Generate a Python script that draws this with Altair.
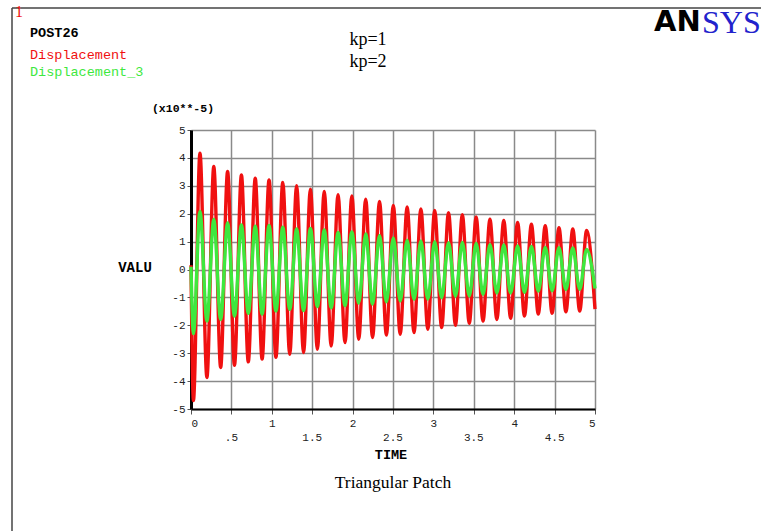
import altair as alt
import pandas as pd

# POST26 time history: nodal displacement (units of 1e-5) at kp=1 and kp=2
PEAK_T = [0.111, 0.282, 0.453, 0.624, 0.795, 0.966, 1.136, 1.307, 1.478, 1.649,
          1.820, 1.991, 2.162, 2.333, 2.504, 2.675, 2.845, 3.016, 3.187, 3.358,
          3.529, 3.700, 3.871, 4.042, 4.213, 4.384, 4.554, 4.725, 4.896]
TROUGH_T = [0.030, 0.197, 0.367, 0.538, 0.709, 0.880, 1.051, 1.222, 1.393, 1.564,
            1.735, 1.906, 2.076, 2.247, 2.418, 2.589, 2.760, 2.931, 3.102, 3.273,
            3.444, 3.614, 3.785, 3.956, 4.127, 4.298, 4.469, 4.640, 4.811]

RED_PEAKS = [4.17, 3.69, 3.51, 3.39, 3.27, 3.21, 3.12, 3.00, 2.88, 2.80,
             2.68, 2.64, 2.52, 2.44, 2.30, 2.24, 2.17, 2.12, 2.04, 1.96,
             1.88, 1.80, 1.76, 1.69, 1.62, 1.57, 1.50, 1.45, 1.40]
RED_TROUGHS = [-4.70, -3.87, -3.51, -3.43, -3.31, -3.21, -3.15, -3.04, -2.98, -2.86,
               -2.74, -2.62, -2.50, -2.44, -2.35, -2.32, -2.26, -2.14, -2.08, -2.00,
               -1.93, -1.85, -1.79, -1.75, -1.67, -1.60, -1.57, -1.52, -1.49]

GREEN_PEAKS = [2.08, 1.79, 1.67, 1.60, 1.55, 1.58, 1.52, 1.45, 1.47, 1.42,
               1.33, 1.35, 1.27, 1.22, 1.13, 1.05, 1.02, 1.00, 0.96, 0.97,
               0.93, 0.89, 0.88, 0.84, 0.83, 0.79, 0.78, 0.77, 0.72]
GREEN_TROUGHS = [-2.30, -1.85, -1.79, -1.67, -1.57, -1.60, -1.49, -1.43, -1.47, -1.33,
                 -1.37, -1.30, -1.20, -1.24, -1.16, -1.13, -1.07, -1.06, -1.01, -0.96,
                 -0.95, -0.89, -0.84, -0.84, -0.82, -0.77, -0.76, -0.72, -0.71]

START_T, END_T = 0.0, 5.0
RED_START, RED_END = 0.15, -1.42
GREEN_START, GREEN_END = 0.10, -0.68

X_MAJOR = [0, 1, 2, 3, 4, 5]
X_HALF = [0.5, 1.5, 2.5, 3.5, 4.5]
X_HALF_LABELS = [".5", "1.5", "2.5", "3.5", "4.5"]
Y_TICKS = [-5, -4, -3, -2, -1, 0, 1, 2, 3, 4, 5]

RED = "#f01010"
GREEN = "#3ee83e"
MONO = "Liberation Mono"
SERIF = "Liberation Serif"
W, H = 404, 279


def series(start, peaks, troughs, end):
    pts = [(START_T, start)] + list(zip(PEAK_T, peaks)) + list(zip(TROUGH_T, troughs)) + [(END_T, end)]
    pts.sort()
    return pd.DataFrame({"TIME": [p[0] for p in pts], "VALU": [p[1] for p in pts]})


red_df = series(RED_START, RED_PEAKS, RED_TROUGHS, RED_END)
green_df = series(GREEN_START, GREEN_PEAKS, GREEN_TROUGHS, GREEN_END)

x_enc = alt.X(
    "TIME:Q",
    scale=alt.Scale(domain=[0, 5], nice=False, zero=False),
    axis=alt.Axis(
        values=sorted(X_MAJOR + X_HALF),
        labelExpr="datum.value % 1 == 0 ? '' + datum.value : ''",
        title=None, grid=True, gridColor="#8a8a8a", gridWidth=1.5,
        domainColor="black", domainWidth=2, tickColor="#555", tickSize=5,
        labelFont=MONO, labelFontSize=11, labelColor="#222",
        labelPadding=3,
    ),
)
y_enc = alt.Y(
    "VALU:Q",
    scale=alt.Scale(domain=[-5, 5], nice=False, zero=False),
    axis=alt.Axis(
        values=Y_TICKS, labelExpr="'' + datum.value",
        title=None, grid=True, gridColor="#8a8a8a", gridWidth=1.5,
        domainColor="black", domainWidth=3, tickColor="#555", tickSize=4,
        labelFont=MONO, labelFontSize=11, labelColor="#222",
        labelPadding=2,
    ),
)

red_line = alt.Chart(red_df).mark_line(color=RED, strokeWidth=3.4, interpolate="monotone").encode(x=x_enc, y=y_enc)
green_line = alt.Chart(green_df).mark_line(color=GREEN, strokeWidth=3.4, interpolate="monotone").encode(x=x_enc, y=y_enc)

half_labels = alt.Chart(pd.DataFrame({"TIME": X_HALF, "label": X_HALF_LABELS})).mark_text(
    font=MONO, fontSize=11, color="#222", baseline="middle"
).encode(x=x_enc, y=alt.value(H + 29), text="label:N")


def label(text, x, y, size, font, color="black", weight="normal", align="center"):
    return alt.Chart(pd.DataFrame({"t": [text]})).mark_text(
        font=font, fontSize=size, color=color, fontWeight=weight, align=align, baseline="middle"
    ).encode(x=alt.value(x), y=alt.value(y), text="t:N")


texts = [
    label("1", -176, -118, 16, SERIF, color=RED, align="left"),
    label("POST26", -161, -97, 13.5, MONO, weight="bold", align="left"),
    label("Displacement", -161, -75, 13.5, MONO, color=RED, align="left"),
    label("Displacement_3", -161, -58, 13.5, MONO, color=GREEN, align="left"),
    label("kp=1", 177, -90, 18, SERIF),
    label("kp=2", 177, -68, 18, SERIF),
    label("AN", 463, -108, 29, "DejaVu Sans", weight="bold", align="left"),
    label("SYS", 511, -107, 32, SERIF, color="#2222cc", align="left"),
    label("(x10**-5)", -8, -21, 11.5, MONO, weight="bold"),
    label("VALU", -56, 138, 14, MONO, weight="bold"),
    label("TIME", 200, 325, 13.5, MONO, weight="bold"),
    label("Triangular Patch", 202, 353, 17.5, SERIF),
]

frame_left = alt.Chart(pd.DataFrame({"a": [0]})).mark_rule(color="#444", strokeWidth=1.5).encode(
    x=alt.value(-179), y=alt.value(-122), y2=alt.value(401)
)
frame_top = alt.Chart(pd.DataFrame({"a": [0]})).mark_rule(color="#444", strokeWidth=1.5).encode(
    x=alt.value(-179), x2=alt.value(570), y=alt.value(-122)
)

chart = alt.layer(
    red_line, green_line, half_labels, frame_left, frame_top, *texts
).properties(
    width=W, height=H,
    autosize=alt.AutoSizeParams(type="none"),
    padding={"left": 191, "top": 130, "right": 166, "bottom": 122},
).configure_view(stroke="transparent")

chart.save("out.html", embed_options={"renderer": "svg", "actions": False})
